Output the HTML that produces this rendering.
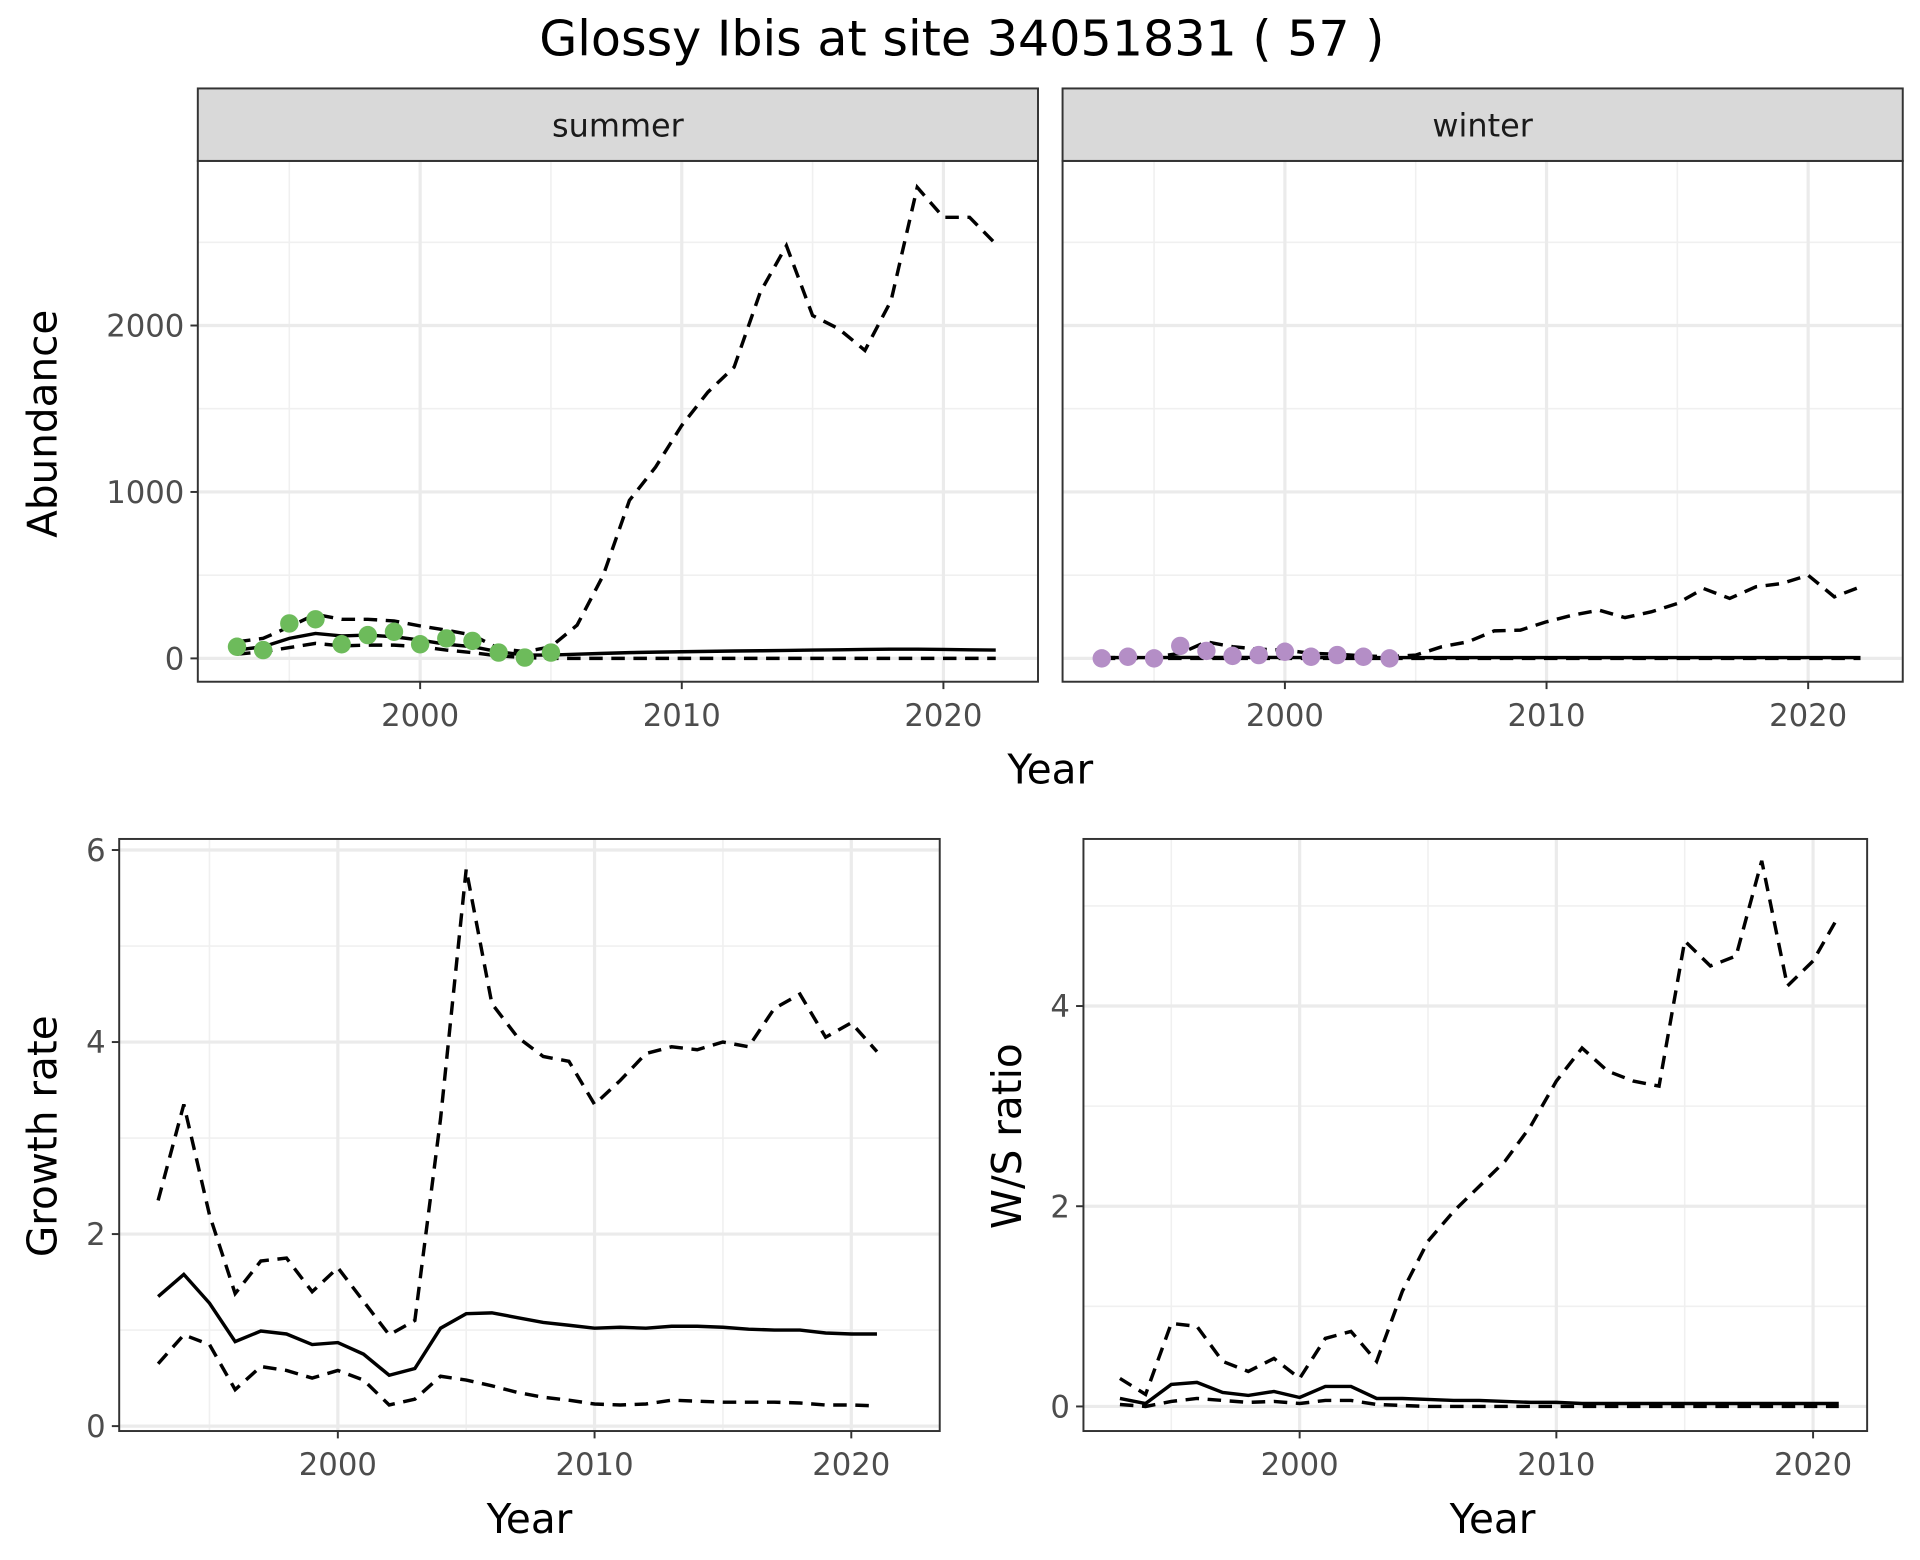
<!DOCTYPE html>
<html><head><meta charset="utf-8">
<style>
html,body{margin:0;padding:0;background:#fff;}
svg{display:block;font-family:"DejaVu Sans","Liberation Sans",sans-serif;}
</style></head>
<body>
<svg id="chart" width="1920" height="1560" viewBox="0 0 1563 1270" xmlns="http://www.w3.org/2000/svg">
<rect x="0" y="0" width="1563" height="1270" fill="#fff"/>
<text x="783" y="45" text-anchor="middle" font-size="40" fill="#000">Glossy Ibis at site 34051831 ( 57 )</text>
</svg>
<script>
// ---- data ----
const sumYears = [1993,1994,1995,1996,1997,1998,1999,2000,2001,2002,2003,2004,2005,2006,2007,2008,2009,2010,2011,2012,2013,2014,2015,2016,2017,2018,2019,2020,2021,2022];
const sumMean = [50,70,120,150,135,140,130,110,85,70,40,20,20,25,30,35,38,40,42,44,46,48,50,52,54,55,55,54,52,50];
const sumUpper = [100,120,190,265,235,235,225,195,170,140,60,40,70,200,500,950,1150,1400,1600,1750,2200,2480,2060,1980,1850,2150,2830,2650,2650,2490];
const sumLower = [25,40,65,90,75,80,80,70,50,35,15,5,0,0,0,0,0,0,0,0,0,0,0,0,0,0,0,0,0,0];
const sumObsYears = [1993,1994,1995,1996,1997,1998,1999,2000,2001,2002,2003,2004,2005];
const sumObs = [70,50,210,235,85,140,160,85,120,105,35,5,35];
const winYears = sumYears;
const winMean = [5,5,5,6,6,6,6,6,5,5,5,5,5,5,5,5,5,5,5,5,5,5,5,5,5,5,5,5,5,5];
const winUpper = [5,5,8,30,100,70,55,50,30,25,15,10,20,70,100,165,170,220,260,290,245,280,330,420,360,430,450,500,370,430];
const winLower = [0,0,0,0,0,0,0,0,0,0,0,0,0,0,0,0,0,0,0,0,0,0,0,0,0,0,0,0,0,0];
const winObsYears = [1993,1994,1995,1996,1997,1998,1999,2000,2001,2002,2003,2004];
const winObs = [0,10,0,75,45,15,20,40,10,20,10,0];
const grYears = [1993,1994,1995,1996,1997,1998,1999,2000,2001,2002,2003,2004,2005,2006,2007,2008,2009,2010,2011,2012,2013,2014,2015,2016,2017,2018,2019,2020,2021];
const grMean = [1.35,1.58,1.28,0.88,0.99,0.96,0.85,0.87,0.75,0.53,0.6,1.02,1.17,1.18,1.13,1.08,1.05,1.02,1.03,1.02,1.04,1.04,1.03,1.01,1.0,1.0,0.97,0.96,0.96];
const grUpper = [2.35,3.35,2.2,1.38,1.72,1.75,1.4,1.65,1.3,0.95,1.1,3.2,5.8,4.4,4.05,3.85,3.8,3.35,3.6,3.88,3.95,3.92,4.0,3.95,4.35,4.5,4.05,4.2,3.9];
const grLower = [0.65,0.95,0.85,0.38,0.62,0.58,0.5,0.58,0.48,0.22,0.28,0.52,0.48,0.42,0.35,0.3,0.27,0.23,0.22,0.23,0.27,0.26,0.25,0.25,0.25,0.24,0.22,0.22,0.21];
const wsYears = grYears;
const wsMean = [0.08,0.03,0.22,0.24,0.14,0.11,0.15,0.09,0.2,0.2,0.08,0.08,0.07,0.06,0.06,0.05,0.04,0.04,0.03,0.03,0.03,0.03,0.03,0.03,0.03,0.03,0.03,0.03,0.03];
const wsUpper = [0.28,0.12,0.83,0.8,0.45,0.35,0.48,0.28,0.68,0.75,0.45,1.15,1.65,1.95,2.2,2.45,2.8,3.25,3.58,3.35,3.25,3.2,4.65,4.4,4.5,5.45,4.2,4.45,4.9];
const wsLower = [0.02,0,0.05,0.08,0.06,0.04,0.05,0.03,0.06,0.06,0.02,0.01,0,0,0,0,0,0,0,0,0,0,0,0,0,0,0,0,0];
const xTicks = [2000,2010,2020];
const xMinor = [1995,2005,2015];
const abTicks = [0,1000,2000];
const abMinor = [500,1500,2500];
const grTicks = [0,2,4,6];
const grMinor = [1,3,5];
const wsTicks = [0,2,4];
const wsMinor = [1,3,5];

const svg = document.getElementById('chart');
const NS = 'http://www.w3.org/2000/svg';
function mk(tag, attrs, parent){
  const e = document.createElementNS(NS, tag);
  for (const k in attrs) e.setAttribute(k, attrs[k]);
  (parent||svg).appendChild(e);
  return e;
}
function lin(d0,d1,r0,r1){ return v => r0 + (v-d0)/(d1-d0)*(r1-r0); }

function panel(opt){
  const g = mk('g',{});
  
  
  const {x0,x1,y0,y1,sx,sy} = opt;
  mk('rect',{x:x0,y:y0,width:x1-x0,height:y1-y0,fill:'#fff'},g);
  opt.yMinor.forEach(v=>{ const y=sy(v); if(y>y0&&y<y1) mk('line',{x1:x0,x2:x1,y1:y,y2:y,stroke:'#f0f0f0','stroke-width':1.3},g);});
  xMinor.forEach(v=>{ const x=sx(v); mk('line',{x1:x,x2:x,y1:y0,y2:y1,stroke:'#f0f0f0','stroke-width':1.3},g);});
  opt.yTicks.forEach(v=>{ const y=sy(v); mk('line',{x1:x0,x2:x1,y1:y,y2:y,stroke:'#ebebeb','stroke-width':2.6},g);});
  xTicks.forEach(v=>{ const x=sx(v); mk('line',{x1:x,x2:x,y1:y0,y2:y1,stroke:'#ebebeb','stroke-width':2.6},g);});
  const path = (xs,ys,dash,nm)=>{
    const d = xs.map((x,i)=>(i?'L':'M')+sx(x).toFixed(1)+','+sy(ys[i]).toFixed(1)).join(' ');
    const p = mk('path',{d:d,fill:'none',stroke:'#000','stroke-width':2.8,'stroke-dasharray':dash?'11,7':'none'},g);
    
    
  };
  path(opt.years,opt.upper,true,'upper-bound-line');
  path(opt.years,opt.lower,true,'lower-bound-line');
  path(opt.years,opt.mean,false,'mean-line');
  if(opt.obs){
    opt.obsYears.forEach((yr,i)=>{
      const c = mk('circle',{cx:sx(yr),cy:sy(opt.obs[i]),r:7.5,fill:opt.color},g);
      
      
    });
  }
  mk('rect',{x:x0,y:y0,width:x1-x0,height:y1-y0,fill:'none',stroke:'#333','stroke-width':1.6},g);
  if(opt.showY){
    opt.yTicks.forEach(v=>{ const y=sy(v);
      mk('line',{x1:x0-6,x2:x0,y1:y,y2:y,stroke:'#333','stroke-width':1.6},g);
      const t = mk('text',{x:x0-11,y:y+9,'text-anchor':'end','font-size':25,fill:'#4d4d4d'},g);
      t.textContent = v;
      
      
    });
  }
  xTicks.forEach(v=>{ const x=sx(v);
    mk('line',{x1:x,x2:x,y1:y1,y2:y1+6,stroke:'#333','stroke-width':1.6},g);
    const t = mk('text',{x:x,y:y1+36,'text-anchor':'middle','font-size':25,fill:'#4d4d4d'},g);
    t.textContent = v;
    
    
  });
  if(opt.strip){
    mk('rect',{x:x0,y:y0-59,width:x1-x0,height:59,fill:'#d9d9d9',stroke:'#333','stroke-width':1.6},g);
    const t = mk('text',{x:(x0+x1)/2,y:y0-20,'text-anchor':'middle','font-size':26,fill:'#1a1a1a'},g);
    t.textContent = opt.strip;
    
    
  }
  if(opt.xTitle){
    const t = mk('text',{x:opt.xTitle[0],y:opt.xTitle[1],'text-anchor':'middle','font-size':33,fill:'#000'},g);
    t.textContent = 'Year';
    
    
  }
  if(opt.yTitle){
    const t = mk('text',{x:0,y:0,'text-anchor':'middle','font-size':33,fill:'#000',transform:`translate(${opt.yTitle[1]},${opt.yTitle[2]}) rotate(-90)`},g);
    t.textContent = opt.yTitle[0];
    
    
  }
}

panel({name:'summer-panel',x0:161,x1:845,y0:131,y1:555,sx:lin(2000,2010,342,555),sy:lin(0,1000,536,400.5),
  yTicks:abTicks,yMinor:abMinor,years:sumYears,mean:sumMean,upper:sumUpper,lower:sumLower,
  obs:sumObs,obsYears:sumObsYears,color:'#6dbb5b',showY:true,strip:'summer',yTitle:['Abundance',46,345]});
panel({name:'winter-panel',x0:865,x1:1549,y0:131,y1:555,sx:lin(2000,2010,1046,1259),sy:lin(0,1000,536,400.5),
  yTicks:abTicks,yMinor:abMinor,years:winYears,mean:winMean,upper:winUpper,lower:winLower,
  obs:winObs,obsYears:winObsYears,color:'#b48ec6',showY:false,strip:'winter',xTitle:[855,638]});
panel({name:'growth-rate-panel',x0:97,x1:765,y0:683,y1:1165,sx:lin(2000,2010,275,484),sy:lin(0,6,1161,692),
  yTicks:grTicks,yMinor:grMinor,years:grYears,mean:grMean,upper:grUpper,lower:grLower,
  showY:true,xTitle:[431,1248],yTitle:['Growth rate',46,925]});
panel({name:'ws-ratio-panel',x0:882,x1:1520,y0:683,y1:1165,sx:lin(2000,2010,1058,1267),sy:lin(0,4,1145,819),
  yTicks:wsTicks,yMinor:wsMinor,years:wsYears,mean:wsMean,upper:wsUpper,lower:wsLower,
  showY:true,xTitle:[1215,1248],yTitle:['W/S ratio',831,925]});
</script>
</body></html>
